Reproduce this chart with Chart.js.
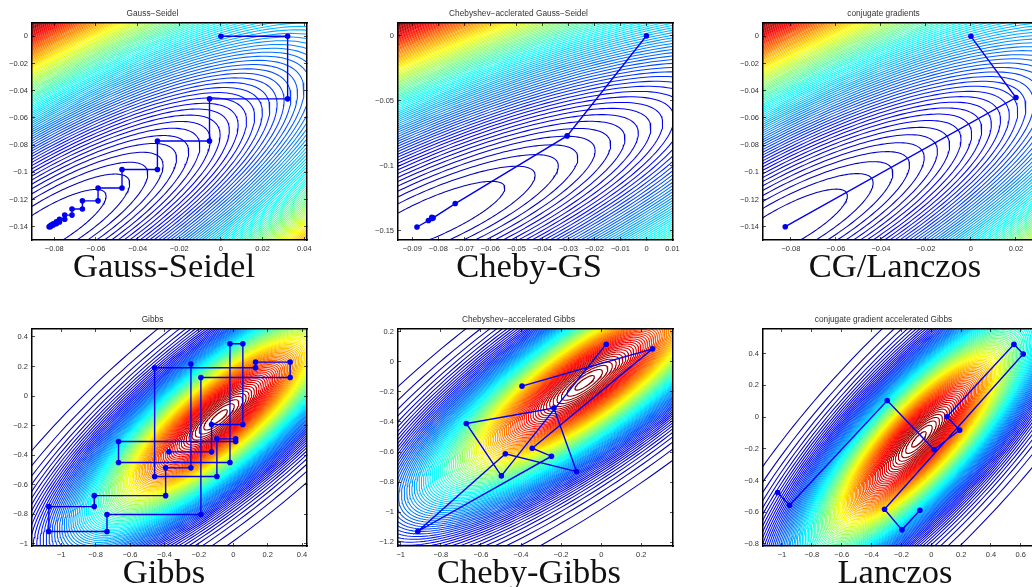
<!DOCTYPE html>
<html>
<head>
<meta charset="utf-8">
<script src="https://cdn.jsdelivr.net/npm/chart.js@4"></script>
<style>
  html, body { margin: 0; padding: 0; background: #fff; overflow: hidden; width: 1032px; height: 587px; }
  canvas { position: absolute; }
  .caption { position: absolute; width: 300px; text-align: center; font: 34.5px "Liberation Serif", serif; line-height: 34px; color: #111; white-space: nowrap; }
</style>
</head>
<body>
<script>
// iterates
const gsX = [0, 0.032, 0.032, -0.0055, -0.0055, -0.0305, -0.0305, -0.0475, -0.0475, -0.059, -0.059, -0.0665, -0.0665, -0.0715, -0.0715, -0.075, -0.075, -0.0775, -0.0775, -0.079, -0.079, -0.0805, -0.0805, -0.0815, -0.0815, -0.082, -0.082, -0.0825];
const gsY = [0, 0, -0.046, -0.046, -0.077, -0.077, -0.098, -0.098, -0.1115, -0.1115, -0.121, -0.121, -0.127, -0.127, -0.1315, -0.1315, -0.1345, -0.1345, -0.1365, -0.1365, -0.1378, -0.1378, -0.1388, -0.1388, -0.1395, -0.1395, -0.14, -0.14];
const chebyGsX = [0, -0.0305, -0.0735, -0.082, -0.0825, -0.0838, -0.0882, -0.0825];
const chebyGsY = [0, -0.077, -0.129, -0.14, -0.1395, -0.142, -0.147, -0.1405];
const cgX = [0, 0.02, -0.0825];
const cgY = [0, -0.045, -0.14];
const gibbsX = [-0.246, -0.246, -0.393, -0.393, -0.808, -0.808, -1.072, -1.072, -0.734, -0.734, -0.188, -0.188, 0.331, 0.331, 0.130, 0.130, -0.457, -0.457, -0.095, -0.095, 0.014, 0.014, -0.667, -0.667, -0.019, -0.019, 0.056, 0.056, -0.126, -0.126, -0.374];
const gibbsY = [0.217, -0.485, -0.485, -0.673, -0.673, -0.747, -0.747, -0.916, -0.916, -0.801, -0.801, 0.126, 0.126, 0.230, 0.230, 0.192, 0.192, -0.544, -0.544, -0.289, -0.289, -0.307, -0.307, -0.449, -0.449, 0.354, 0.354, -0.192, -0.192, -0.377, -0.377];
const chebyGibbsX = [-0.395, 0.256, -0.344, -0.248, -0.914, -0.478, -0.123, -0.236, -0.673, -0.498, 0.025];
const chebyGibbsY = [-0.162, 0.086, -0.575, -0.628, -1.127, -0.612, -0.730, -0.308, -0.410, -0.759, 0.117];
const lanczosX = [-1.029, -0.949, -0.295, 0.018, 0.190, 0.105, 0.554, 0.616, -0.313, -0.196, -0.076];
const lanczosY = [-0.476, -0.556, 0.105, -0.204, -0.082, 0.002, 0.459, 0.398, -0.581, -0.711, -0.587];

// tick labels
const ticksGsX = [-0.08, -0.06, -0.04, -0.02, 0, 0.02, 0.04];
const ticksGsY = [0, -0.02, -0.04, -0.06, -0.08, -0.1, -0.12, -0.14];
const ticksChebyGsX = [-0.09, -0.08, -0.07, -0.06, -0.05, -0.04, -0.03, -0.02, -0.01, 0, 0.01];
const ticksChebyGsY = [0, -0.05, -0.1, -0.15];
const ticksCgX = [-0.08, -0.06, -0.04, -0.02, 0, 0.02];
const ticksGibbsX = [-1, -0.8, -0.6, -0.4, -0.2, 0, 0.2, 0.4];
const ticksGibbsY = [0.4, 0.2, 0, -0.2, -0.4, -0.6, -0.8, -1];
const ticksChebyGibbsX = [-1, -0.8, -0.6, -0.4, -0.2, 0, 0.2];
const ticksChebyGibbsY = [0.2, 0, -0.2, -0.4, -0.6, -0.8, -1, -1.2];
const ticksLanczosX = [-1, -0.8, -0.6, -0.4, -0.2, 0, 0.2, 0.4, 0.6];
const ticksLanczosY = [0.4, 0.2, 0, -0.2, -0.4, -0.6, -0.8];

// contour field fitted to the picture: same tilted quadratic in every panel
const fieldCenter = [-0.0825, -0.14];
const fieldRho = 0.82;
const gaussWidth = 0.18;
const levelCount = 100;
const gaussLevelLow = 0.01;
const gaussLevelHigh = 0.9957;

const jetStops = [[0, 0, 0, 0.65], [0.11, 0, 0, 1], [0.36, 0, 1, 1], [0.61, 1, 1, 0], [0.87, 1, 0, 0], [1, 0.5, 0, 0]];

function jet(v) {
  let i = 0;
  while (i < jetStops.length - 2 && v > jetStops[i + 1][0]) i++;
  const a = jetStops[i], b = jetStops[i + 1];
  const f = Math.min(1, Math.max(0, (v - a[0]) / (b[0] - a[0])));
  const c = [1, 2, 3].map(k => Math.round(255 * (a[k] + (b[k] - a[k]) * f)));
  return 'rgb(' + c.join(',') + ')';
}

function quad(x, y) {
  const dx = x - fieldCenter[0], dy = y - fieldCenter[1];
  return dx * dx + dy * dy - 2 * fieldRho * dx * dy;
}

function contour(q) {
  const pts = [];
  const a = Math.sqrt(q / (1 - fieldRho)), b = Math.sqrt(q / (1 + fieldRho));
  for (let i = 0; i <= 200; i++) {
    const t = i / 200 * 2 * Math.PI;
    const u = a * Math.cos(t), v = b * Math.sin(t);
    pts.push({ x: fieldCenter[0] + (u + v) / Math.SQRT2, y: fieldCenter[1] + (u - v) / Math.SQRT2 });
  }
  return pts;
}

function contourSet(xlim, ylim, gauss) {
  const sets = [];
  const corners = [quad(xlim[0], ylim[0]), quad(xlim[0], ylim[1]), quad(xlim[1], ylim[0]), quad(xlim[1], ylim[1])];
  const qmax = Math.max(...corners);
  for (let i = 0; i < levelCount; i++) {
    let level, q;
    if (gauss) {
      level = gaussLevelLow + i / (levelCount - 1) * (gaussLevelHigh - gaussLevelLow);
      q = -gaussWidth * Math.log(level);
    } else {
      level = (i + 1) / levelCount;
      q = level * qmax;
    }
    sets.push({ data: contour(q), showLine: true, pointRadius: 0, borderWidth: 1.05, borderColor: jet(level), tension: 0 });
  }
  return sets;
}

function tickText(v) {
  return String(v).replace('-', '\u2212');
}

function makeAxis(position, lim, values, size, labelled) {
  return {
    type: 'linear',
    position: position,
    min: lim[0],
    max: lim[1],
    afterBuildTicks: scale => { scale.ticks = values.map(v => ({ value: v })); },
    afterFit: scale => {
      if (scale.isHorizontal()) scale.height = size; else scale.width = size;
    },
    border: { color: '#000', width: 1.5, z: 2 },
    grid: { drawOnChartArea: false, drawTicks: true, tickLength: -3, color: '#000', tickWidth: 0.7, z: 2 },
    ticks: {
      display: labelled,
      autoSkip: false,
      maxRotation: 0,
      padding: 7,
      color: '#333',
      font: { family: '"Liberation Sans"', size: 7.5 },
      callback: v => tickText(v)
    }
  };
}

const panels = [
  { title: 'Gauss\u2212Seidel', caption: 'Gauss-Seidel', left: 32, top: 0, xs: gsX, ys: gsY, xlim: [-0.0907, 0.0413], ylim: [-0.1498, 0.0098], xt: ticksGsX, yt: ticksGsY, gauss: false, cap: 164 },
  { title: 'Chebyshev\u2212acclerated Gauss\u2212Seidel', caption: 'Cheby-GS', left: 398, top: 0, xs: chebyGsX, ys: chebyGsY, xlim: [-0.0955, 0.0102], ylim: [-0.157, 0.0098], xt: ticksChebyGsX, yt: ticksChebyGsY, gauss: false, cap: 529 },
  { title: 'conjugate gradients', caption: 'CG/Lanczos', left: 763, top: 0, xs: cgX, ys: cgY, xlim: [-0.0924, 0.0298], ylim: [-0.1498, 0.0098], xt: ticksCgX, yt: ticksGsY, gauss: false, cap: 895 },
  { title: 'Gibbs', caption: 'Gibbs', left: 32, top: 306, xs: gibbsX, ys: gibbsY, xlim: [-1.170, 0.429], ylim: [-1.0136, 0.454], xt: ticksGibbsX, yt: ticksGibbsY, gauss: true, cap: 164 },
  { title: 'Chebyshev\u2212accelerated Gibbs', caption: 'Cheby-Gibbs', left: 398, top: 306, xs: chebyGibbsX, ys: chebyGibbsY, xlim: [-1.0134, 0.358], ylim: [-1.225, 0.218], xt: ticksChebyGibbsX, yt: ticksChebyGibbsY, gauss: true, cap: 529 },
  { title: 'conjugate gradient accelerated Gibbs', caption: 'Lanczos', left: 763, top: 306, xs: lanczosX, ys: lanczosY, xlim: [-1.127, 0.715], ylim: [-0.813, 0.556], xt: ticksLanczosX, yt: ticksLanczosY, gauss: true, cap: 895 }
];

panels.forEach(p => {
  const canvas = document.createElement('canvas');
  canvas.width = 344;
  canvas.height = 262;
  canvas.style.left = (p.left - 34) + 'px';
  canvas.style.top = p.top + 'px';
  document.body.appendChild(canvas);

  const path = {
    data: p.xs.map((x, i) => ({ x: x, y: p.ys[i] })),
    showLine: true,
    borderColor: '#0000f0',
    backgroundColor: '#0000f0',
    borderWidth: 1.4,
    pointRadius: 2.8,
    pointBorderWidth: 0,
    tension: 0
  };

  new Chart(canvas.getContext('2d'), {
    type: 'scatter',
    data: { datasets: [path].concat(contourSet(p.xlim, p.ylim, p.gauss)) },
    options: {
      responsive: false,
      animation: false,
      devicePixelRatio: 1,
      layout: { padding: { left: 0, right: 35, top: 0, bottom: 0 } },
      plugins: {
        legend: { display: false },
        tooltip: { enabled: false },
        title: {
          display: true,
          text: p.title,
          color: '#333',
          font: { family: '"Liberation Sans"', size: 8.3, weight: 'normal', lineHeight: 1 },
          padding: { top: 9.85, bottom: 4.85 }
        }
      },
      scales: {
        x: makeAxis('bottom', p.xlim, p.xt, 22, true),
        y: makeAxis('left', p.ylim, p.yt, 34, true),
        x2: makeAxis('top', p.xlim, p.xt, 0, false),
        y2: makeAxis('right', p.ylim, p.yt, 0, false)
      }
    }
  });

  const cap = document.createElement('div');
  cap.className = 'caption';
  cap.textContent = p.caption;
  cap.style.left = (p.cap - 150) + 'px';
  cap.style.top = (p.top === 0 ? 248 : 554) + 'px';
  document.body.appendChild(cap);
});
</script>
</body>
</html>
